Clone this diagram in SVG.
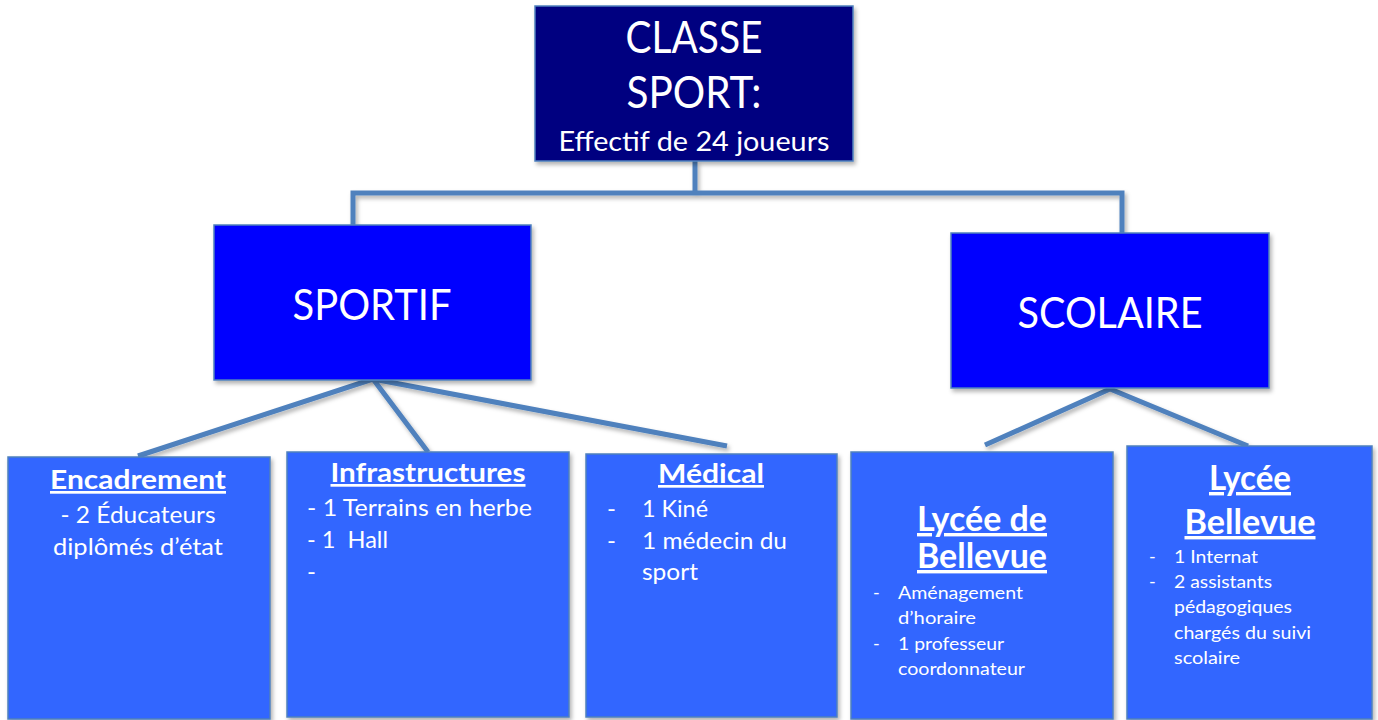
<svg xmlns="http://www.w3.org/2000/svg" width="1378" height="720" viewBox="0 0 1378 720">
<defs>
<filter id="sh" x="-10%" y="-10%" width="120%" height="120%">
<feDropShadow dx="2" dy="3" stdDeviation="2" flood-color="#000" flood-opacity="0.3"/>
</filter>
</defs>
<style>
text{font-family:Lato,"Open Sans","Liberation Sans",sans-serif;fill:#fff}
.box{stroke:#4f81bd;stroke-width:1.5;filter:url(#sh)}
.top{fill:#000080}
.mid{fill:#0000ff}
.leaf{fill:#3366ff}
.conn{fill:none;stroke:#4f81bd;stroke-width:5;filter:url(#sh)}
.h{font-weight:bold;text-decoration:underline}
.c{text-anchor:middle}
</style>
<rect width="1378" height="720" fill="#fff"/>
<g id="connectors">
<path class="conn" d="M695,161 V193 M353,232 V193 H1122 V233"/>
<path class="conn" d="M138,456 L373,379 L428,452 M373,379 L727,446"/>
<path class="conn" d="M985,445 L1110,389 L1248,446"/>
</g>
<g id="classe-sport">
<rect class="box top" x="535" y="6" width="318" height="155"/>
<text class="c" x="694" y="53" font-size="44" textLength="137" lengthAdjust="spacingAndGlyphs">CLASSE</text>
<text class="c" x="694" y="108" font-size="44" textLength="135" lengthAdjust="spacingAndGlyphs">SPORT:</text>
<text class="c" x="694" y="151" font-size="26" textLength="271" lengthAdjust="spacingAndGlyphs">Effectif de 24 joueurs</text>
</g>
<g id="sportif">
<rect class="box mid" x="214" y="225" width="317" height="155"/>
<text class="c" x="372" y="320" font-size="42" textLength="159" lengthAdjust="spacingAndGlyphs">SPORTIF</text>
</g>
<g id="scolaire">
<rect class="box mid" x="951" y="233" width="318" height="155"/>
<text class="c" x="1110" y="328" font-size="42" textLength="185" lengthAdjust="spacingAndGlyphs">SCOLAIRE</text>
</g>
<g id="encadrement">
<rect class="box leaf" x="8" y="457" width="262" height="262"/>
<text class="c h" x="138" y="489" font-size="27" textLength="176" lengthAdjust="spacingAndGlyphs">Encadrement</text>
<text class="c" x="138" y="523" font-size="24" textLength="155" lengthAdjust="spacingAndGlyphs">- 2 Éducateurs</text>
<text class="c" x="138" y="555" font-size="24" textLength="170" lengthAdjust="spacingAndGlyphs">diplômés d’état</text>
</g>
<g id="infrastructures">
<rect class="box leaf" x="287" y="452" width="282" height="265"/>
<text class="c h" x="428" y="482" font-size="27" textLength="195" lengthAdjust="spacingAndGlyphs">Infrastructures</text>
<text x="307" y="516" font-size="24" textLength="225" lengthAdjust="spacingAndGlyphs">- 1 Terrains en herbe</text>
<text x="307" y="548" font-size="24" textLength="81" lengthAdjust="spacingAndGlyphs" xml:space="preserve">- 1  Hall</text>
<text x="307" y="580" font-size="24">-</text>
</g>
<g id="medical">
<rect class="box leaf" x="586" y="454" width="251" height="263"/>
<text class="c h" x="711" y="483" font-size="27" textLength="106" lengthAdjust="spacingAndGlyphs">Médical</text>
<text x="607" y="517" font-size="24">-</text>
<text x="642" y="517" font-size="24" textLength="66" lengthAdjust="spacingAndGlyphs">1 Kiné</text>
<text x="607" y="549" font-size="24">-</text>
<text x="642" y="549" font-size="24" textLength="145" lengthAdjust="spacingAndGlyphs">1 médecin du</text>
<text x="642" y="580" font-size="24" textLength="56" lengthAdjust="spacingAndGlyphs">sport</text>
</g>
<g id="lycee-de-bellevue">
<rect class="box leaf" x="851" y="452" width="262" height="267"/>
<text class="c h" x="982" y="531" font-size="34" textLength="130" lengthAdjust="spacingAndGlyphs">Lycée de</text>
<text class="c h" x="982" y="568" font-size="34" textLength="130" lengthAdjust="spacingAndGlyphs">Bellevue</text>
<text x="873" y="599" font-size="18">-</text>
<text x="898" y="599" font-size="18" textLength="125" lengthAdjust="spacingAndGlyphs">Aménagement</text>
<text x="898" y="624" font-size="18" textLength="78" lengthAdjust="spacingAndGlyphs">d’horaire</text>
<text x="873" y="650" font-size="18">-</text>
<text x="898" y="650" font-size="18" textLength="106" lengthAdjust="spacingAndGlyphs">1 professeur</text>
<text x="898" y="675" font-size="18" textLength="127" lengthAdjust="spacingAndGlyphs">coordonnateur</text>
</g>
<g id="lycee-bellevue">
<rect class="box leaf" x="1127" y="446" width="245" height="273"/>
<text class="c h" x="1250" y="490" font-size="34" textLength="82" lengthAdjust="spacingAndGlyphs">Lycée</text>
<text class="c h" x="1250" y="534" font-size="34" textLength="131" lengthAdjust="spacingAndGlyphs">Bellevue</text>
<text x="1149" y="563" font-size="18">-</text>
<text x="1174" y="563" font-size="18" textLength="84" lengthAdjust="spacingAndGlyphs">1 Internat</text>
<text x="1149" y="588" font-size="18">-</text>
<text x="1174" y="588" font-size="18" textLength="98" lengthAdjust="spacingAndGlyphs">2 assistants</text>
<text x="1174" y="613" font-size="18" textLength="118" lengthAdjust="spacingAndGlyphs">pédagogiques</text>
<text x="1174" y="639" font-size="18" textLength="137" lengthAdjust="spacingAndGlyphs">chargés du suivi</text>
<text x="1174" y="664" font-size="18" textLength="66" lengthAdjust="spacingAndGlyphs">scolaire</text>
</g>
</svg>
